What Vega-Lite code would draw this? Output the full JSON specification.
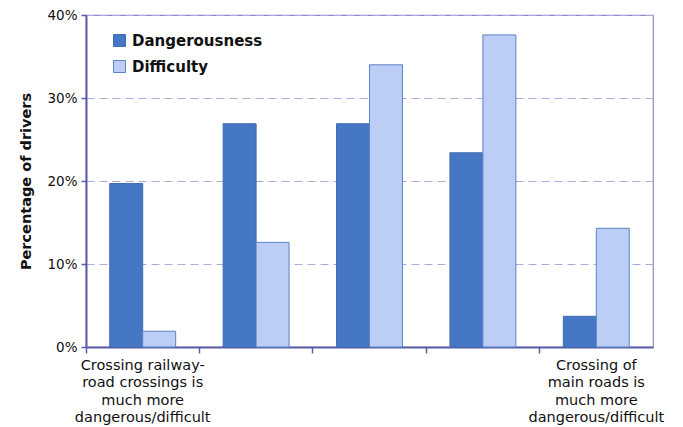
{
  "$schema": "https://vega.github.io/schema/vega-lite/v6.json",
  "width": 567,
  "height": 332,
  "autosize": "none",
  "padding": {"left": 86, "top": 15, "right": 30, "bottom": 80},
  "background": "white",
  "config": {
    "font": "DejaVu Sans",
    "view": {"stroke": "#8a8ac6", "strokeWidth": 1.2}
  },
  "data": {
    "values": [
      {"cat": "A", "series": "Dangerousness", "value": 0.197},
      {"cat": "A", "series": "Difficulty", "value": 0.019},
      {"cat": "B", "series": "Dangerousness", "value": 0.269},
      {"cat": "B", "series": "Difficulty", "value": 0.126},
      {"cat": "C", "series": "Dangerousness", "value": 0.269},
      {"cat": "C", "series": "Difficulty", "value": 0.340},
      {"cat": "D", "series": "Dangerousness", "value": 0.234},
      {"cat": "D", "series": "Difficulty", "value": 0.376},
      {"cat": "E", "series": "Dangerousness", "value": 0.037},
      {"cat": "E", "series": "Difficulty", "value": 0.143}
    ]
  },
  "mark": {"type": "bar", "strokeWidth": 1},
  "encoding": {
    "x": {
      "field": "cat",
      "type": "nominal",
      "scale": {"paddingInner": 0, "paddingOuter": 0},
      "axis": {
        "title": null,
        "bandPosition": 0,
        "labelAngle": 0,
        "labelAlign": "center",
        "labelBaseline": "top",
        "labelBound": false,
        "labelOverlap": false,
        "labelFontSize": 14.5,
        "labelColor": "#111111",
        "labelLineHeight": 17.5,
        "labelPadding": 5,
        "labelExpr": "datum.value == 'A' ? ['Crossing railway-','road crossings is','much more','dangerous/difficult'] : datum.value == 'E' ? ['Crossing of','main roads is','much more','dangerous/difficult'] : ''",
        "tickSize": 6,
        "tickColor": "#5a5ca8",
        "tickWidth": 1.5,
        "domainColor": "#5a5ca8",
        "domainWidth": 2
      }
    },
    "xOffset": {
      "field": "series",
      "type": "nominal",
      "scale": {"paddingInner": 0, "paddingOuter": 0.72}
    },
    "y": {
      "field": "value",
      "type": "quantitative",
      "scale": {"domain": [0, 0.4], "nice": false},
      "axis": {
        "title": "Percentage of drivers",
        "titleFontSize": 14.5,
        "titleFontWeight": "bold",
        "titleColor": "#111111",
        "titlePadding": 13,
        "values": [0, 0.1, 0.2, 0.3, 0.4],
        "format": ".0%",
        "labelFontSize": 13.5,
        "labelColor": "#111111",
        "labelPadding": 4,
        "tickSize": 5,
        "tickColor": "#5a5ca8",
        "tickWidth": 1.5,
        "domainColor": "#5a5ca8",
        "domainWidth": 2,
        "grid": true,
        "gridColor": "#a9a9da",
        "gridDash": [8, 5],
        "gridWidth": 1.2
      }
    },
    "color": {
      "field": "series",
      "type": "nominal",
      "scale": {"domain": ["Dangerousness", "Difficulty"], "range": ["#4677c4", "#bccef6"]},
      "legend": {
        "title": null,
        "orient": "none",
        "legendX": 26,
        "legendY": 18,
        "padding": 0,
        "symbolType": "square",
        "symbolSize": 144,
        "symbolStrokeWidth": 1,
        "symbolStrokeColor": "#4a72b8",
        "labelFontSize": 15,
        "labelFontWeight": "bold",
        "labelColor": "#111111",
        "labelOffset": 5,
        "rowPadding": 9
      }
    },
    "stroke": {
      "field": "series",
      "type": "nominal",
      "scale": {"domain": ["Dangerousness", "Difficulty"], "range": ["#3f6cb3", "#5b84c4"]},
      "legend": null
    }
  }
}
